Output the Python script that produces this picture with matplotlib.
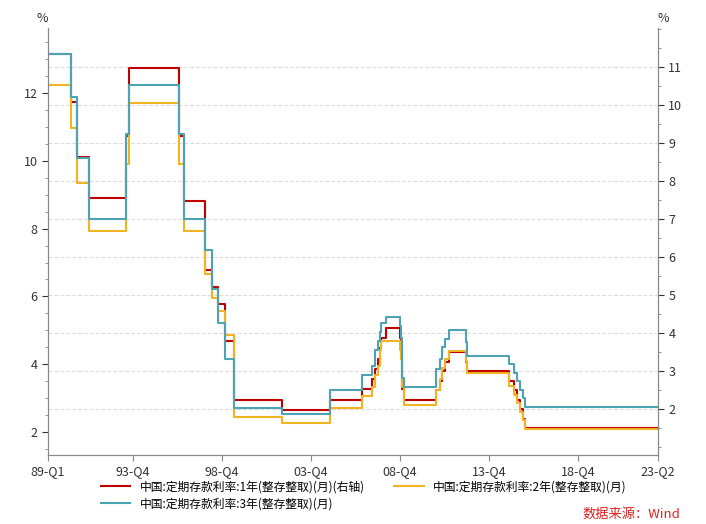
import matplotlib
matplotlib.use("Agg")
import matplotlib.pyplot as plt
import numpy as np

plt.rcParams['font.family'] = ['Noto Sans CJK SC', 'DejaVu Sans']

END = 2023.25

# change dates (decimal years) and rates
d1 = [1989.0, 1990.29, 1990.62, 1991.29, 1993.38, 1993.54, 1996.38, 1996.62, 1997.79, 1998.21,
      1998.54, 1998.96, 1999.45, 2002.13, 2004.83, 2006.63, 2007.21, 2007.38, 2007.54, 2007.63,
      2007.71, 2007.96, 2008.79, 2008.83, 2008.90, 2008.98, 2010.80, 2010.99, 2011.11, 2011.27,
      2011.52, 2012.45, 2012.52, 2014.89, 2015.16, 2015.36, 2015.49, 2015.65, 2015.81]
r1 = [11.34, 10.08, 8.64, 7.56, 9.18, 10.98, 9.18, 7.47, 5.67, 5.22,
      4.77, 3.78, 2.25, 1.98, 2.25, 2.52, 2.79, 3.06, 3.33, 3.60,
      3.87, 4.14, 3.87, 3.60, 2.52, 2.25, 2.50, 2.75, 3.00, 3.25,
      3.50, 3.25, 3.00, 2.75, 2.50, 2.25, 2.00, 1.75, 1.50]
r2 = [12.24, 10.98, 9.36, 7.92, 9.90, 11.70, 9.90, 7.92, 6.66, 5.94,
      5.58, 4.86, 2.43, 2.25, 2.70, 3.06, 3.33, 3.69, 3.96, 4.41,
      4.68, 4.68, 4.41, 4.14, 3.33, 2.79, 3.25, 3.55, 3.90, 4.15,
      4.40, 4.10, 3.75, 3.35, 3.10, 2.85, 2.60, 2.35, 2.10]
r3 = [13.14, 11.88, 10.08, 8.28, 10.80, 12.24, 10.80, 8.28, 7.38, 6.21,
      5.22, 4.14, 2.70, 2.52, 3.24, 3.69, 3.96, 4.41, 4.68, 4.95,
      5.22, 5.40, 5.13, 4.77, 3.60, 3.33, 3.85, 4.15, 4.50, 4.75,
      5.00, 4.65, 4.25, 4.00, 3.75, 3.50, 3.25, 3.00, 2.75]

tick_pos = [1989.0, 1993.75, 1998.75, 2003.75, 2008.75, 2013.75, 2018.75, 2023.25]
tick_lab = ["89-Q1", "93-Q4", "98-Q4", "03-Q4", "08-Q4", "13-Q4", "18-Q4", "23-Q2"]

names = ["中国:定期存款利率:1年(整存整取)(月)(右轴)",
         "中国:定期存款利率:2年(整存整取)(月)",
         "中国:定期存款利率:3年(整存整取)(月)"]
colors = ["#C00000", "#F0B323", "#4BA3B3"]

x = d1 + [END]
fig = plt.figure(figsize=(7.06, 5.24), dpi=100)
ax = fig.add_axes([48/706, 1-455/524, 610/706, 427/524])
ax2 = ax.twinx()

l2, = ax.step(x, r2 + [r2[-1]], where="post", color=colors[1], lw=1.5)
l3, = ax.step(x, r3 + [r3[-1]], where="post", color=colors[2], lw=1.5)
l1, = ax2.step(x, r1 + [r1[-1]], where="post", color=colors[0], lw=1.5)
ax2.set_zorder(ax.get_zorder() - 1)
ax.patch.set_visible(False)

ax.set_xlim(1989.0, END)
ax.set_ylim(1.32, 13.92)
ax2.set_ylim(0.79, 12.03)
ax.set_yticks(range(2, 13, 2))
ax2.set_yticks(range(2, 12))
ax.set_yticks(np.arange(1.5, 14, 0.5), minor=True)
ax2.set_yticks(np.arange(1, 12.01, 0.5), minor=True)
ax.set_xticks(tick_pos)
ax.set_xticklabels(tick_lab)
ax2.yaxis.grid(True, color="#DDDDDD", ls="--", lw=0.8)

for a in (ax, ax2):
    for s in a.spines.values():
        s.set_color("#888888")
    a.spines["top"].set_visible(False)
    a.tick_params(labelsize=9, colors="#333333", length=4, direction="out")
    a.tick_params(which="minor", length=2, colors="#888888")
ax.tick_params(axis="x", colors="#888888", labelcolor="#333333")

fig.text(48/706, 1-22/524, "%", fontsize=9, ha="right", color="#333333")
fig.text(658/706, 1-22/524, "%", fontsize=9, ha="left", color="#333333")

# ncol=2 fills by column: order so row 1 is 1yr/2yr, row 2 is 3yr
fig.legend([l1, l3, l2], [names[0], names[2], names[1]], loc="upper left",
           bbox_to_anchor=(90/706, 1-470/524),
           ncol=2, frameon=False, fontsize=8.5, handlelength=2.5, columnspacing=2.5,
           labelspacing=0.3)
fig.text(680/706, 1-518/524, "数据来源：Wind", fontsize=9.5, color="#E02020", ha="right")

fig.savefig("out.png", dpi=100)
